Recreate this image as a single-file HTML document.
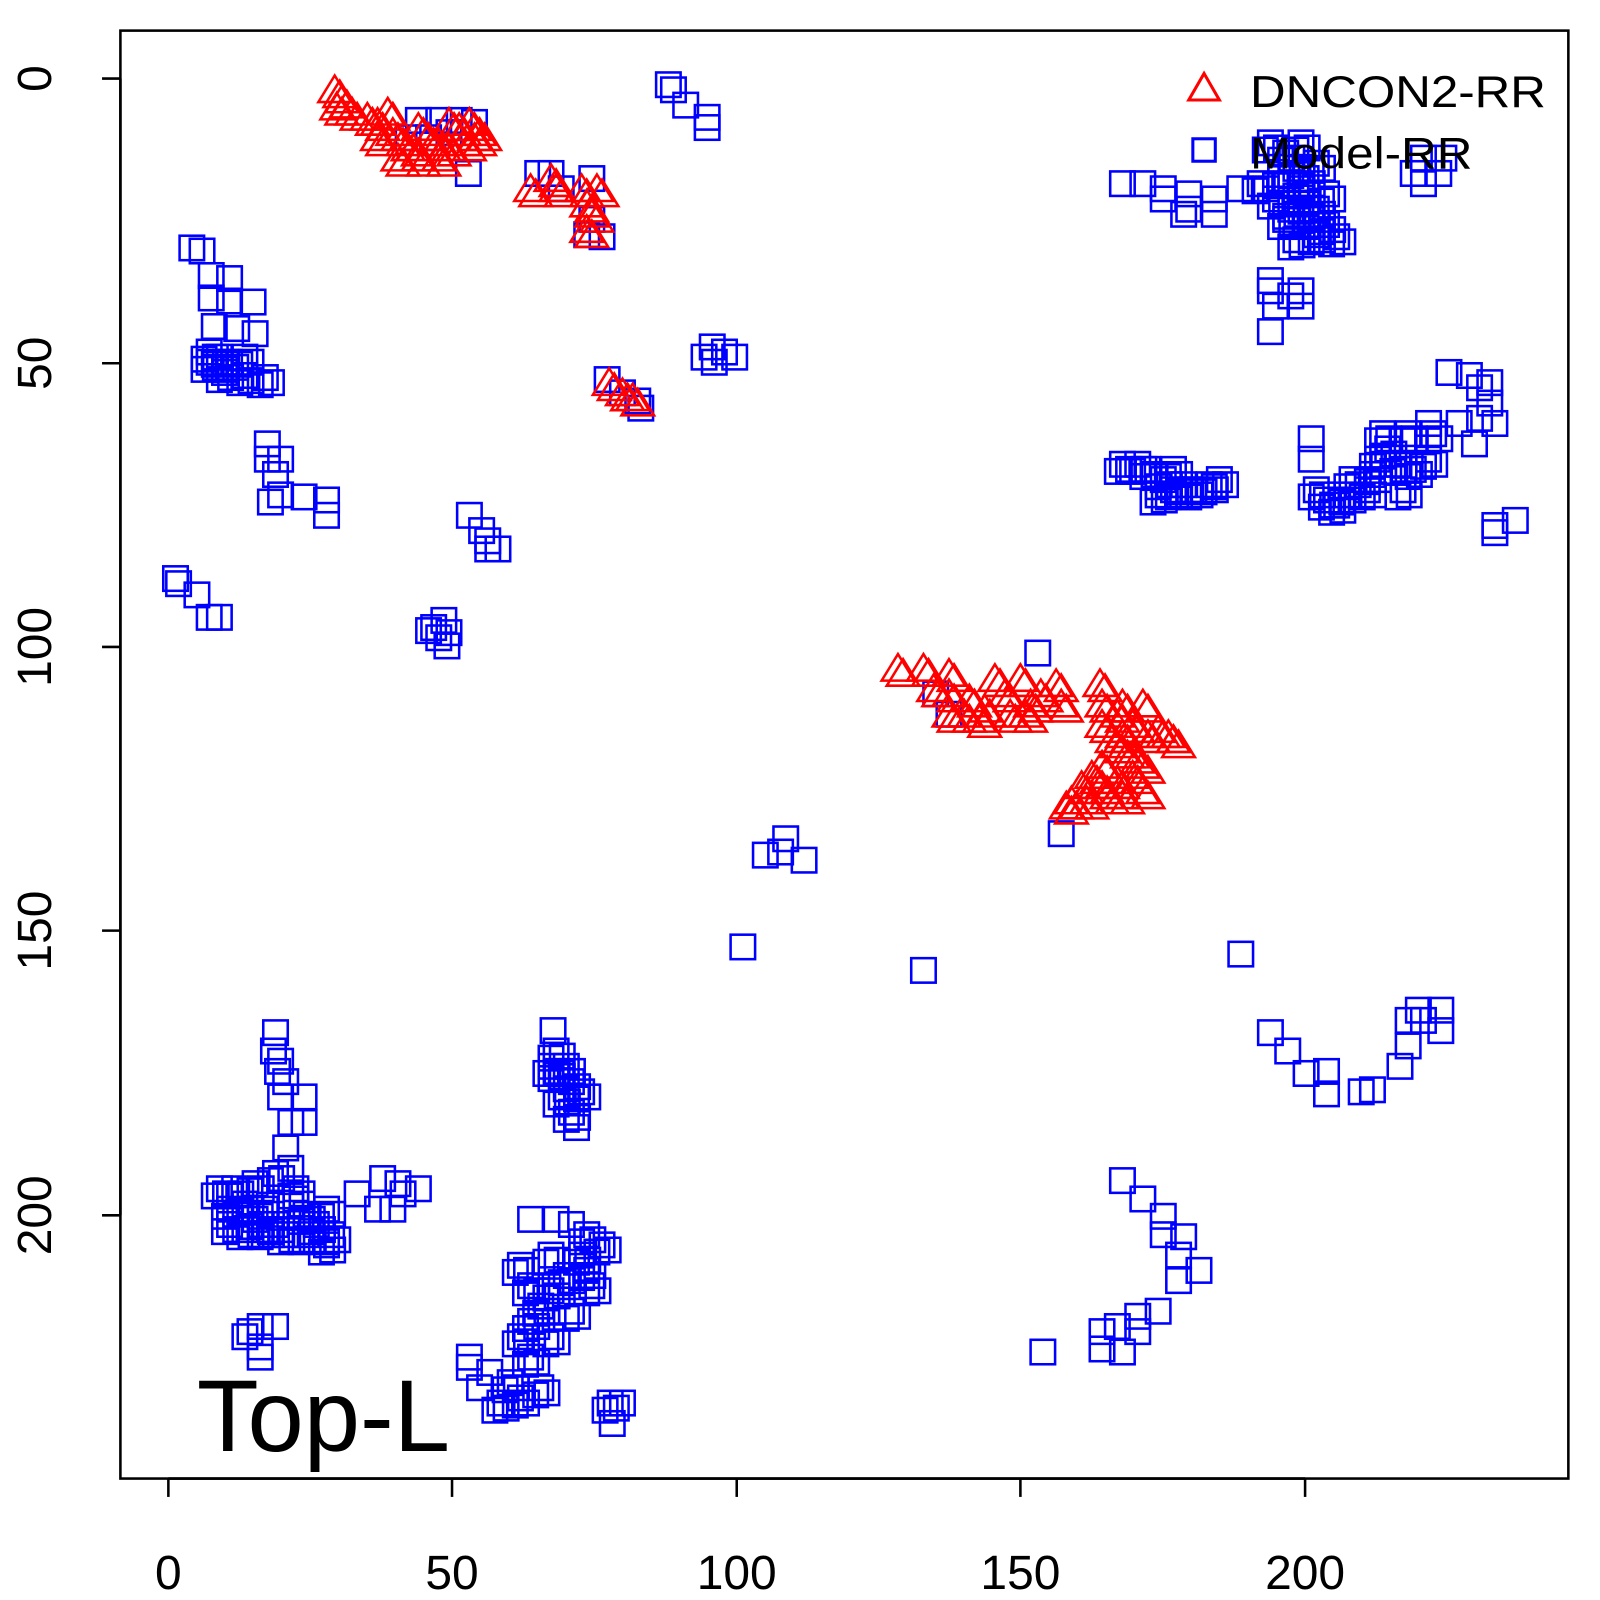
<!DOCTYPE html>
<html><head><meta charset="utf-8"><style>html,body{margin:0;padding:0;background:#fff}svg{display:block}</style></head>
<body>
<svg id="s" width="1600" height="1600" xmlns="http://www.w3.org/2000/svg" font-family="Liberation Sans, sans-serif">
<rect x="0" y="0" width="1600" height="1600" fill="#fff"/>
<g transform="scale(1.0204)">
<g id="pts"></g>
<rect x="118" y="30" width="1419" height="1419" fill="none" stroke="#000" stroke-width="2.5"/>
<g stroke="#000" stroke-width="2.5">
<line x1="165" y1="1449" x2="1279" y2="1449"/>
<line x1="165" y1="1449" x2="165" y2="1467"/><line x1="443" y1="1449" x2="443" y2="1467"/><line x1="722" y1="1449" x2="722" y2="1467"/><line x1="1000" y1="1449" x2="1000" y2="1467"/><line x1="1279" y1="1449" x2="1279" y2="1467"/>
<line x1="118" y1="77" x2="118" y2="1191"/>
<line x1="100" y1="77" x2="118" y2="77"/><line x1="100" y1="356" x2="118" y2="356"/><line x1="100" y1="634" x2="118" y2="634"/><line x1="100" y1="912" x2="118" y2="912"/><line x1="100" y1="1191" x2="118" y2="1191"/>
</g>
<g font-size="47" text-anchor="middle" fill="#000">
<text x="165" y="1557">0</text><text x="443" y="1557">50</text><text x="722" y="1557">100</text><text x="1000" y="1557">150</text><text x="1279" y="1557">200</text>
<text transform="translate(50,77) rotate(-90)">0</text>
<text transform="translate(50,356) rotate(-90)">50</text>
<text transform="translate(50,634) rotate(-90)">100</text>
<text transform="translate(50,912) rotate(-90)">150</text>
<text transform="translate(50,1191) rotate(-90)">200</text>
</g>
<polygon points="1180,72 1195,98 1165,98" fill="none" stroke="#f00" stroke-width="3"/>
<rect x="1169" y="136" width="22" height="22" fill="none" stroke="#00f" stroke-width="3"/>
<text x="1225" y="105" font-size="44" textLength="290" lengthAdjust="spacingAndGlyphs">DNCON2-RR</text>
<text x="1225" y="165" font-size="44" textLength="218" lengthAdjust="spacingAndGlyphs">Model-RR</text>
<text x="193" y="1422" font-size="100" textLength="248" lengthAdjust="spacingAndGlyphs">Top-L</text>
</g>
</svg>
<script>
var sq=[655,83,660,88,672,103,693,115,693,125,188,243,198,246,207,270,207,292,225,273,225,295,248,296,210,320,232,322,250,327,205,345,215,350,225,355,240,350,220,365,240,368,260,370,205,355,262,435,262,450,275,450,270,465,265,492,275,485,298,487,320,490,320,505,172,567,175,572,193,583,205,605,215,605,460,505,472,520,478,530,488,538,478,538,425,615,435,608,440,620,430,625,438,633,420,618,527,170,540,170,550,185,580,175,575,230,590,232,580,215,595,372,625,393,628,400,610,385,698,340,710,345,720,350,690,350,700,355,410,118,430,118,450,118,465,120,400,135,420,135,440,130,459,170,1017,640,917,680,930,700,1040,817,765,835,750,838,770,822,788,843,728,928,905,951,1216,935,1245,1012,1262,1030,1280,1052,1300,1050,1300,1072,1334,1070,1345,1068,1372,1045,1380,1025,1380,1000,1390,990,1412,990,1412,1010,1395,1000,1100,1157,1120,1175,1140,1192,1140,1210,1160,1212,1155,1230,1175,1245,1155,1255,1135,1285,1115,1290,1095,1300,1080,1305,1080,1322,1100,1325,1115,1305,1022,1325,270,1012,268,1030,275,1040,272,1050,280,1060,275,1075,298,1075,285,1100,298,1100,280,1125,285,1145,270,1150,250,1160,230,1165,225,1185,240,1180,250,1195,260,1185,270,1200,290,1175,300,1190,310,1200,320,1185,325,1210,320,1220,300,1210,280,1210,260,1205,240,1205,225,1200,215,1165,290,1165,375,1155,390,1160,410,1165,370,1185,385,1185,395,1170,350,1170,240,1310,255,1300,270,1300,255,1320,255,1330,245,1305,542,1010,545,1030,540,1045,555,1045,560,1060,570,1070,560,1090,565,1105,545,1050,550,1075,520,1195,545,1195,560,1200,575,1210,590,1220,570,1230,575,1245,580,1260,555,1250,540,1265,530,1280,520,1295,510,1310,520,1330,500,1355,490,1375,470,1360,460,1340,460,1330,480,1345,510,1370,530,1360,540,1310,510,1240,520,1260,560,1285,540,1230,598,1375,610,1375,600,1395,1100,180,1120,180,1140,185,1140,195,1165,190,1165,205,1190,195,1190,210,1160,210,1215,185,1235,180,1245,140,1260,150,1270,165,1250,195,1260,215,1270,235,1290,230,1300,220,1310,232,1280,200,1300,190,1255,175,1275,185,1290,205,1280,175,1275,140,1290,160,1265,205,1285,215,1385,170,1395,180,1410,170,1415,155,1395,155,1245,285,1250,300,1265,290,1275,285,1275,300,1245,325,1245,275,1100,455,1115,455,1125,460,1140,470,1150,480,1160,475,1170,480,1185,475,1195,470,1135,485,1150,460,1285,430,1285,450,1290,480,1300,490,1310,495,1320,485,1325,470,1345,465,1350,450,1360,440,1370,455,1375,480,1385,460,1400,450,1380,425,1405,425,1400,415,1355,425,1340,480,1420,365,1440,368,1450,380,1460,395,1450,410,1465,415,1445,435,1430,415,1460,375,1465,515,1485,510,1465,522];
var tr=[328,88,335,98,330,105,345,110,360,115,370,120,380,110,385,130,395,140,405,145,420,135,430,140,440,120,450,125,460,120,465,135,470,130,410,125,370,135,390,155,410,155,430,155,455,140,440,145,520,185,540,175,545,185,570,185,585,185,575,200,580,210,575,225,597,375,610,385,620,390,880,655,905,655,915,675,930,660,930,680,930,700,950,685,965,695,975,665,985,680,1000,665,1010,690,1020,680,1035,670,1040,690,990,700,1005,700,960,705,945,700,1078,670,1080,690,1095,700,1100,690,1110,710,1120,690,1125,720,1135,715,1145,720,1150,725,1080,710,1090,725,1100,735,1080,750,1070,760,1060,770,1050,785,1065,785,1085,780,1100,780,1120,775,1110,760,1095,765,1080,770,1120,750,1110,740,1045,790,1100,720];
var dense=[[1235,130,1320,240],[200,1150,340,1225],[490,1210,600,1380],[1330,420,1420,490],[1270,470,1330,505],[530,1020,580,1100],[195,330,265,375],[1100,450,1200,490]];
function inD(x,y){for(var k=0;k<dense.length;k++){var d=dense[k];if(x>=d[0]&&x<=d[2]&&y>=d[1]&&y<=d[3])return true;}return false;}
var h='';
function S(x,y){h+='<rect x="'+(x-12)+'" y="'+(y-12)+'" width="24" height="24" fill="none" stroke="#00f" stroke-width="2.5"/>';}
function T(x,y){h+='<polygon points="'+x+','+(y-14)+' '+(x+16)+','+(y+12)+' '+(x-16)+','+(y+12)+'" fill="none" stroke="#f00" stroke-width="2.5"/>';}
for(var i=0;i<sq.length;i+=2){var x=sq[i],y=sq[i+1];S(x,y);if(inD(x,y)){S(x+6,y+5);S(x-5,y+7);}}
for(var i=0;i<tr.length;i+=2){var x=tr[i],y=tr[i+1];T(x,y);T(x+5,y+5);}
document.getElementById('pts').innerHTML=h;
</script>
</body></html>
